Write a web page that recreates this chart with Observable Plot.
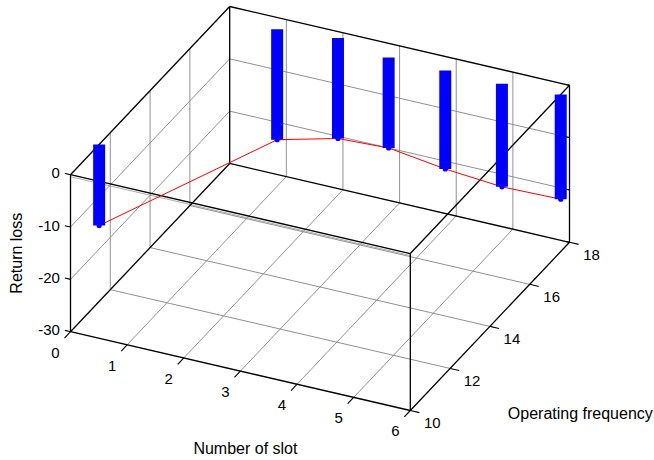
<!DOCTYPE html>
<html><head><meta charset="utf-8">
<script src="https://cdn.jsdelivr.net/npm/d3@7"></script>
<script src="https://cdn.jsdelivr.net/npm/@observablehq/plot@0.6"></script>
<style>body{margin:0;background:#fff}</style>
</head><body><div id="chart"></div>
<script>
// ---- data ----
const slots = [0, 1, 2, 3, 4, 5, 6];
const freqs = [11.44, 17.54, 17.75, 17.45, 17.45, 17.45, 17.56];
const returnLoss = [-15.5, -21.1, -19.2, -17.3, -18.8, -19.7, -20.0];
const xTicks = [0, 1, 2, 3, 4, 5, 6];
const yTicks = [10, 12, 14, 16, 18];
const zTicks = [-30, -20, -10, 0];
const xDomain = [0, 6], yDomain = [10, 18], zDomain = [-30, 0];
const xTitle = "Number of slot", yTitle = "Operating frequency", zTitle = "Return loss";

// ---- orthographic 3D view (MATLAB-like az/el) ----
const az = 25.1 * Math.PI / 180, el = 29.7 * Math.PI / 180;
const LZ = 0.482; // plot box aspect for z
function proj(x, y, z) {
  const X = (x - xDomain[0]) / (xDomain[1] - xDomain[0]);
  const Y = (y - yDomain[0]) / (yDomain[1] - yDomain[0]);
  const Z = (z - zDomain[0]) / (zDomain[1] - zDomain[0]) * LZ;
  return {
    u: X * Math.cos(az) + Y * Math.sin(az),
    w: -X * Math.sin(az) * Math.sin(el) + Y * Math.cos(az) * Math.sin(el) + Z * Math.cos(el)
  };
}
function seg(a, b) { const p = proj(...a), q = proj(...b); return {x1: p.u, y1: p.w, x2: q.u, y2: q.w}; }

const [x0, x1] = xDomain, [y0, y1] = yDomain, [z0, z1] = zDomain;
const corners = [];
for (const x of xDomain) for (const y of yDomain) for (const z of zDomain) corners.push(proj(x, y, z));
const uExt = d3.extent(corners, d => d.u), wExt = d3.extent(corners, d => d.w);

// grid on back planes
const grid = [];
for (const x of xTicks.slice(1, -1)) {
  grid.push(seg([x, y0, z0], [x, y1, z0]));   // floor
  grid.push(seg([x, y1, z0], [x, y1, z1]));   // back wall
}
for (const y of yTicks.slice(1, -1)) {
  grid.push(seg([x0, y, z0], [x1, y, z0]));   // floor
  grid.push(seg([x0, y, z0], [x0, y, z1]));   // left wall
}
for (const z of zTicks.slice(1, -1)) {
  grid.push(seg([x0, y1, z], [x1, y1, z]));   // back wall
  grid.push(seg([x0, y0, z], [x0, y1, z]));   // left wall
}
// box edges
const box = [
  seg([x0,y0,z0],[x1,y0,z0]), seg([x0,y1,z0],[x1,y1,z0]), seg([x0,y0,z1],[x1,y0,z1]), seg([x0,y1,z1],[x1,y1,z1]),
  seg([x0,y0,z0],[x0,y1,z0]), seg([x1,y0,z0],[x1,y1,z0]), seg([x0,y0,z1],[x0,y1,z1]), seg([x1,y0,z1],[x1,y1,z1]),
  seg([x0,y0,z0],[x0,y0,z1]), seg([x1,y0,z0],[x1,y0,z1]), seg([x0,y1,z0],[x0,y1,z1]), seg([x1,y1,z0],[x1,y1,z1])
];
const frontTop = [seg([x0,y0,z1],[x1,y0,z1])];
// ticks
const ticks = [];
for (const z of zTicks) { ticks.push(seg([x0,y0,z],[x0-0.1,y0,z])); ticks.push(seg([x1,y1,z],[x1-0.06,y1,z])); }
for (const x of xTicks) ticks.push(seg([x,y0,z0],[x,y0-0.3,z0]));
for (const y of yTicks) ticks.push(seg([x1,y,z0],[x1+0.16,y,z0]));

const zLab = zTicks.map(z => ({...proj(x0 - 0.1, y0, z), t: String(z)}));
const xLab = xTicks.map(x => ({...proj(x, y0, z0), t: String(x)}));
const yLab = yTicks.map(y => ({...proj(x1, y, z0), t: String(y)}));
const xTitlePos = [{...proj((x0 + x1) / 2, y0, z0), t: xTitle}];
const yTitlePos = [{...proj(x1, y0, z0), t: yTitle}];
const zTitlePos = [{...proj(x0, y0, (z0 + z1) / 2), t: zTitle}];

// data points and stems
const pts = slots.map((s, i) => proj(s, freqs[i], returnLoss[i]));
const stems = slots.map((s, i) => seg([s, freqs[i], 0], [s, freqs[i], returnLoss[i]]));

const chart = Plot.plot({
  width: 654, height: 460,
  style: {fontFamily: "Liberation Sans, Arial, sans-serif", fontSize: "15px", background: "#fff"},
  x: {domain: uExt, range: [70, 569], axis: null},
  y: {domain: wExt, range: [410, 6], axis: null},
  marks: [
    Plot.link(grid, {x1: "x1", y1: "y1", x2: "x2", y2: "y2", stroke: "#858585", strokeWidth: 0.9}),
    Plot.link(frontTop, {x1: "x1", y1: "y1", x2: "x2", y2: "y2", stroke: "#9a9a9a", strokeWidth: 0.8, dy: 2}),
    Plot.link(box, {x1: "x1", y1: "y1", x2: "x2", y2: "y2", stroke: "black", strokeWidth: 1.3}),
    Plot.link(ticks, {x1: "x1", y1: "y1", x2: "x2", y2: "y2", stroke: "black", strokeWidth: 1.1}),
    Plot.text(zLab, {x: "u", y: "w", text: "t", textAnchor: "end", dx: -5, fill: "black"}),
    Plot.text(xLab, {x: "u", y: "w", text: "t", dx: -15, dy: 21, fill: "black"}),
    Plot.text(yLab, {x: "u", y: "w", text: "t", dx: 22, dy: 12.5, fill: "black"}),
    Plot.text(xTitlePos, {x: "u", y: "w", text: "t", dx: 5, dy: 78, fontSize: 16, fill: "black"}),
    Plot.text(yTitlePos, {x: "u", y: "w", text: "t", dx: 170, dy: 3, fontSize: 16, fill: "black"}),
    Plot.text(zTitlePos, {x: "u", y: "w", text: "t", dx: -54, rotate: -90, fontSize: 16, fill: "black"}),
    Plot.line(pts, {x: "u", y: "w", stroke: "red", strokeWidth: 1}),
    Plot.link(stems, {x1: "x1", y1: "y1", x2: "x2", y2: "y2", stroke: "blue", strokeWidth: 12}),
    Plot.dot(pts, {x: "u", y: "w", r: 2.6, fill: "blue", stroke: "none"})
  ]
});
document.getElementById("chart").appendChild(chart);
</script>
</body></html>
